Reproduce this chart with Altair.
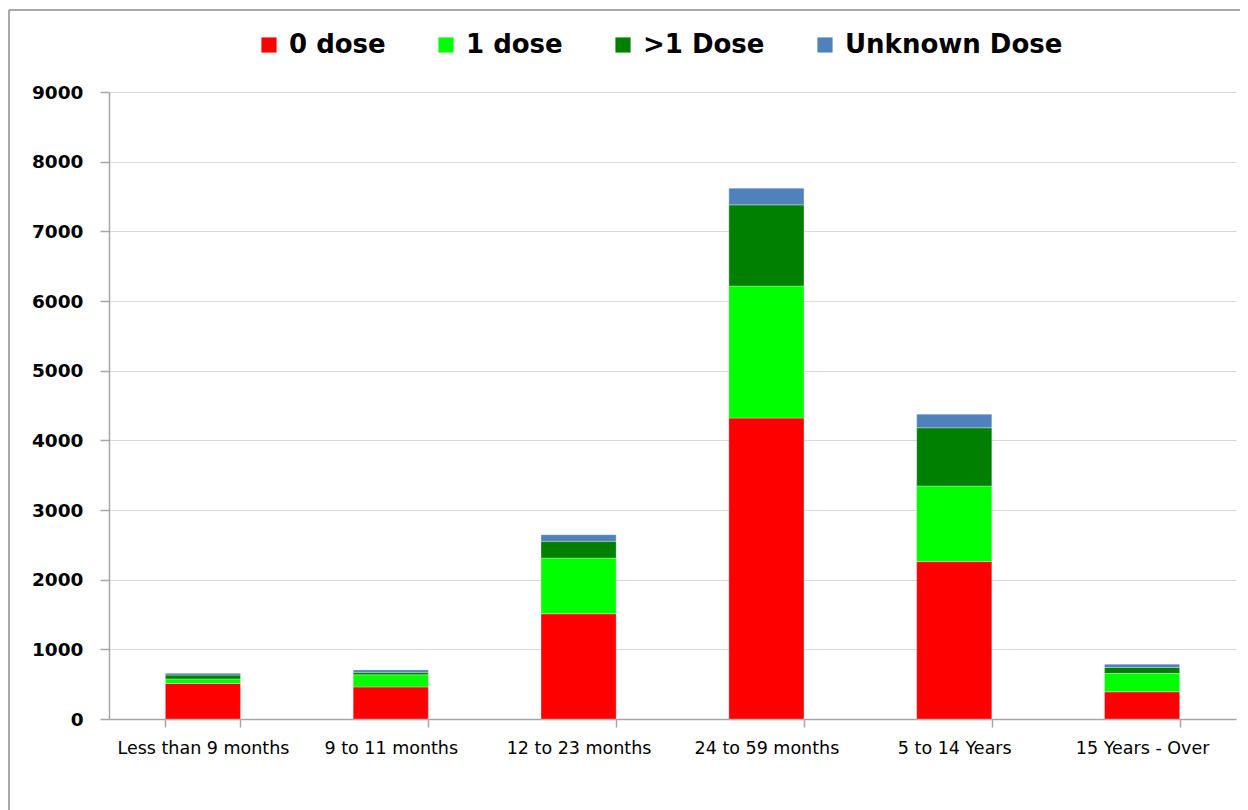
import altair as alt
import pandas as pd

categories = ["Less than 9 months", "9 to 11 months", "12 to 23 months",
              "24 to 59 months", "5 to 14 Years", "15 Years - Over"]
series = ["0 dose", "1 dose", ">1 Dose", "Unknown Dose"]
colors = ["#FF0000", "#00FF00", "#008000", "#4F81BD"]

zero_dose = [510, 460, 1510, 4320, 2260, 390]
one_dose = [65, 175, 800, 1895, 1085, 265]
more_dose = [55, 35, 240, 1165, 835, 85]
unknown_dose = [25, 35, 95, 240, 195, 47]

rows = []
for vals, s in zip([zero_dose, one_dose, more_dose, unknown_dose], series):
    for c, v in zip(categories, vals):
        rows.append({"cat": c, "series": s, "value": v, "ord": series.index(s)})
df = pd.DataFrame(rows)

FONT = "DejaVu Sans"

bars = alt.Chart(df).mark_bar(stroke="white", strokeWidth=0.5, strokeOpacity=0.6).encode(
    x=alt.X("cat:N", sort=categories, title=None,
            scale=alt.Scale(paddingInner=0.6, paddingOuter=0.3),
            axis=alt.Axis(labelAngle=0, tickBand="extent", labelFontSize=17.5,
                          labelFont=FONT, labelColor="#000000", labelPadding=12,
                          domainColor="#A6A6A6", tickColor="#A6A6A6", tickSize=8,
                          domainWidth=1.5, tickWidth=1.5, labelLimit=300)),
    y=alt.Y("value:Q", title=None, stack="zero",
            scale=alt.Scale(domain=[0, 9000], nice=False),
            axis=alt.Axis(values=list(range(0, 9001, 1000)), format="d",
                          labelFontSize=18.5,
                          labelFontWeight="bold", labelFont=FONT, labelColor="#000000",
                          labelPadding=17, domainColor="#A6A6A6", tickColor="#A6A6A6",
                          tickSize=9, gridColor="#D9D9D9", gridWidth=1.2,
                          domainWidth=1.5, tickWidth=1.5)),
    color=alt.Color("series:N", sort=series,
                    scale=alt.Scale(domain=series, range=colors),
                    legend=alt.Legend(title=None, orient="none", direction="horizontal",
                                      legendX=147, legendY=-60,
                                      labelFontSize=26, labelFontWeight="bold",
                                      labelFont=FONT, labelColor="#000000",
                                      symbolType="square", symbolSize=230,
                                      symbolStrokeWidth=0, columnPadding=47,
                                      labelOffset=7, labelLimit=400)),
    order=alt.Order("ord:Q", sort="ascending"),
)

frame_df = pd.DataFrame({"f": [0]})
frame_top = alt.Chart(frame_df).mark_rule(color="#8C8C8C", strokeWidth=1.5, clip=False).encode(
    x=alt.value(-100), x2=alt.value(1300), y=alt.value(-82))
frame_left = alt.Chart(frame_df).mark_rule(color="#8C8C8C", strokeWidth=1.5, clip=False).encode(
    x=alt.value(-100), y=alt.value(-82), y2=alt.value(760))

chart = alt.layer(frame_top, frame_left, bars).properties(
    width=1127, height=627,
    autosize=alt.AutoSizeParams(type="none"),
    padding={"left": 101, "top": 84, "right": 4, "bottom": 91},
).configure_view(stroke=None)

chart.save("out.html", embed_options={"renderer": "svg", "actions": False})
